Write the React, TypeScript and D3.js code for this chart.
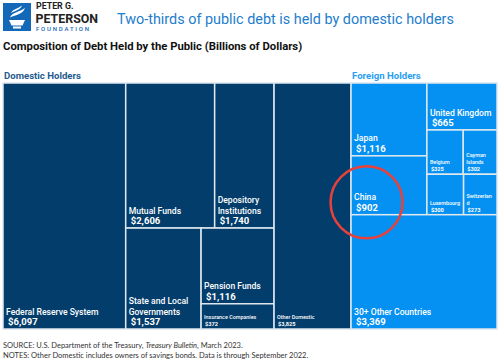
import * as d3 from "d3";

// values in billions of dollars
const domesticHolders = ["Federal Reserve System", "Mutual Funds", "Depository Institutions", "State and Local Governments", "Pension Funds", "Insurance Companies", "Other Domestic"];
const domesticValues = [6097, 2606, 1740, 1537, 1116, 372, 3825];
const foreignHolders = ["Japan", "China", "United Kingdom", "Belgium", "Cayman Islands", "Luxembourg", "Switzerland", "30+ Other Countries"];
const foreignValues = [1116, 902, 665, 325, 302, 300, 273, 3369];

// how the names wrap inside their boxes
const labelLines: Record<string, string[]> = {
  "Depository Institutions": ["Depository", "Institutions"],
  "State and Local Governments": ["State and Local", "Governments"],
  "Cayman Islands": ["Cayman", "Islands"],
  "Switzerland": ["Switzerlan", "d"],
};
const smallLabels = new Set(["Insurance Companies", "Other Domestic", "Belgium", "Cayman Islands", "Luxembourg", "Switzerland"]);

const W = 500, H = 360;
const mapX = 3, mapY = 83, mapW = 494, mapH = 246;
const navy = "#033d6b";
const bright = "#0591f2";
const font = "Roboto, sans-serif";

type Node = { name?: string; group?: string; value?: number; dir?: "h" | "v"; children?: Node[] };

const D = (i: number): Node => ({ name: domesticHolders[i], value: domesticValues[i], group: "domestic" });
const F = (i: number): Node => ({ name: foreignHolders[i], value: foreignValues[i], group: "foreign" });
const box = (dir: "h" | "v", children: Node[], name?: string): Node => ({ dir, children, name });

const tree: Node = box("h", [
  box("h", [D(0), box("v", [box("h", [D(1), D(2)]), box("h", [D(3), box("v", [D(4), D(5)])])]), D(6)], "Domestic Holders"),
  box("v", [
    box("h", [box("v", [F(0), F(1)]), box("v", [F(2), box("h", [F(3), F(4)]), box("h", [F(5), F(6)])])]),
    F(7),
  ], "Foreign Holders"),
]);

export default function App() {
  const root = d3.hierarchy<Node>(tree).sum((d) => (d.children ? 0 : d.value || 0));
  d3.treemap<Node>()
    .size([mapW, mapH])
    .tile((node, x0, y0, x1, y1) => {
      if (node.data.dir === "v") d3.treemapSlice(node, x0, y0, x1, y1);
      else d3.treemapDice(node, x0, y0, x1, y1);
    })(root);
  const r = root as d3.HierarchyRectangularNode<Node>;
  const leaves = r.leaves();
  const groups = r.children || [];
  const fmt = d3.format("$,");
  const china = leaves.find((l) => l.data.name === "China")!;

  return (
    <svg width={W} height={H} style={{ position: "absolute", left: 0, top: 0, background: "#fff" }}>
      {/* logo */}
      <rect x={3} y={3} width={28} height={28} fill="#1468b8" />
      <path d="M9 20 H25 L22.5 25.5 H11.5 Z" fill="#fff" />
      <rect x={13} y={26.5} width={8} height={2} fill="#fff" />
      <path d="M10 17.5 C12 12 20 12 25 8 C23 14 16 15 10 17.5 Z" fill="#fff" />
      <path d="M11 13 C13 9 18 8.5 22 5.5 C20.5 10 15 10.5 11 13 Z" fill="#fff" />
      <text x={36} y={9.2} fontFamily={font} fontWeight={700} fontSize={8.8} fill="#222">PETER G.</text>
      <text x={35.5} y={22.6} fontFamily={font} fontWeight={700} fontSize={12.4} fill="#222">PETERSON</text>
      <text x={36} y={31} fontFamily={font} fontWeight={500} fontSize={6} letterSpacing={1.8} fill="#1468b8">FOUNDATION</text>

      <text x={117} y={23.5} fontFamily={font} fontSize={14.4} fill="#1e7dcc">Two-thirds of public debt is held by domestic holders</text>
      <text x={3} y={50} fontFamily={font} fontWeight={700} fontSize={11.3} fill="#111">Composition of Debt Held by the Public (Billions of Dollars)</text>

      {groups.map((g) => (
        <text key={g.data.name} x={mapX + g.x0 + 1} y={78.5} fontFamily={font} fontWeight={700} fontSize={9.6}
          fill={g.data.name === "Domestic Holders" ? "#245b8e" : "#2a9ef2"}>{g.data.name}</text>
      ))}

      <g transform={`translate(${mapX},${mapY})`}>
        {leaves.map((l) => (
          <rect key={l.data.name} x={l.x0} y={l.y0} width={l.x1 - l.x0} height={l.y1 - l.y0}
            fill={l.data.group === "domestic" ? navy : bright} stroke="#dfe7ef" strokeWidth={1.5} />
        ))}
        {leaves.map((l) => {
          const small = smallLabels.has(l.data.name!);
          const lines = labelLines[l.data.name!] || [l.data.name!];
          const fs = small ? 5.4 : 8.6;
          const step = small ? 6.8 : 10.4;
          const valY = l.y1 - (small ? 3.2 : 4);
          return (
            <g key={l.data.name} fill="#fff" fontFamily={font}>
              {lines.map((t, i) => (
                <text key={i} x={l.x0 + 3} y={valY - step * (lines.length - i)} fontSize={fs} fontWeight={500}>{t}</text>
              ))}
              <text x={l.x0 + (small ? 4 : 5)} y={valY} fontSize={small ? 5.6 : 9.5} fontWeight={700}>{fmt(l.data.value!)}</text>
            </g>
          );
        })}
        <circle cx={china.x0 + 15.5} cy={china.y0 + 46.5} r={36} fill="none" stroke="#e8413c" strokeWidth={2.5} />
      </g>

      <text x={3} y={348} fontFamily="Lato, sans-serif" fontSize={7.5} fill="#333">
        SOURCE: U.S. Department of the Treasury, <tspan fontStyle="italic">Treasury Bulletin</tspan>, March 2023.
      </text>
      <text x={3} y={357.5} fontFamily="Lato, sans-serif" fontSize={7.5} fill="#333">
        NOTES: Other Domestic includes owners of savings bonds. Data is through September 2022.
      </text>
    </svg>
  );
}
